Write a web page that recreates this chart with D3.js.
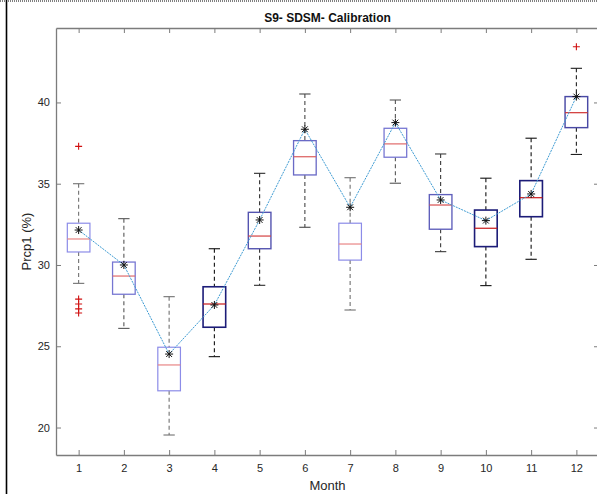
<!DOCTYPE html>
<html>
<head>
<meta charset="utf-8">
<script src="https://cdn.jsdelivr.net/npm/d3@7"></script>
<style>
  html, body { margin: 0; padding: 0; background: #fff; }
  svg { display: block; font-family: "Liberation Sans", Arial, sans-serif; }
</style>
</head>
<body>
<svg id="chart" width="597" height="496"></svg>
<script>
// Monthly box-plot statistics of Prcp1 (%)
const months      = [1, 2, 3, 4, 5, 6, 7, 8, 9, 10, 11, 12];
const whiskerLow  = [28.87, 26.1, 19.54, 24.36, 28.75, 32.32, 27.23, 35.03, 30.82, 28.73, 30.35, 36.8];
const boxLow      = [30.8, 28.2, 22.26, 26.17, 31.0, 35.54, 30.3, 36.63, 32.2, 31.13, 32.97, 38.45];
const medians     = [31.6, 29.32, 23.85, 27.6, 31.78, 36.66, 31.29, 37.45, 33.69, 32.26, 34.14, 39.37];
const boxHigh     = [32.57, 30.18, 24.94, 28.66, 33.24, 37.65, 32.57, 38.41, 34.33, 33.38, 35.19, 40.36];
const whiskerHigh = [35.0, 32.85, 28.05, 31.0, 35.64, 40.52, 35.37, 40.15, 36.83, 35.34, 37.8, 42.1];
const means       = [32.15, 30.0, 24.52, 27.54, 32.77, 38.35, 33.55, 38.76, 34.0, 32.73, 34.37, 40.36];
// Outliers: [month, value]
const outliers    = [[1, 37.3], [1, 27.9], [1, 27.6], [1, 27.3], [1, 27.05], [12, 43.43]];
const yTicks      = [20, 25, 30, 35, 40];

// Line weight of each month's box (0 = light, 1 = dark)
const ink = [0, 0.2, 0, 1, 0.5, 0.3, 0, 0.2, 0.4, 1, 1, 0.6];

const svg = d3.select("#chart");
const plotLeft = 56, plotRight = 599, plotTop = 28, plotBottom = 455;

const x = d3.scaleLinear().domain([0.5, 12.5]).range([plotLeft, plotRight]);
const y = d3.scaleLinear().domain([18.31, 44.58]).range([plotBottom, plotTop]);

// Figure border
svg.append("line").attr("x1", 6.5).attr("x2", 6.5).attr("y1", 0).attr("y2", 494)
  .attr("stroke", "#000").attr("stroke-width", 1.6);
svg.append("line").attr("x1", 0).attr("x2", 597).attr("y1", 1).attr("y2", 1)
  .attr("stroke", "#000").attr("stroke-width", 1).attr("stroke-dasharray", "1,1");

// Axes (ticks pointing inward)
const axisColor = "#7c7c7c";
function styleAxis(g) {
  g.selectAll("path.domain").attr("stroke", axisColor).attr("stroke-width", 1.3);
  g.selectAll(".tick line").attr("stroke", axisColor).attr("stroke-width", 1);
  g.selectAll(".tick text").attr("fill", "#262626").style("font-size", "11px")
    .style("font-family", "Liberation Sans, Arial, sans-serif");
}
svg.append("g").attr("transform", `translate(0,${plotBottom})`)
  .call(d3.axisBottom(x).tickValues(months).tickFormat(d3.format("d"))
    .tickSizeInner(-5).tickSizeOuter(0).tickPadding(9))
  .call(styleAxis);
svg.append("g").attr("transform", `translate(0,${plotTop})`)
  .call(d3.axisTop(x).tickValues(months).tickFormat("")
    .tickSizeInner(-5).tickSizeOuter(0))
  .call(styleAxis);
svg.append("g").attr("transform", `translate(${plotLeft},0)`)
  .call(d3.axisLeft(y).tickValues(yTicks).tickFormat(d3.format("d"))
    .tickSizeInner(-5).tickSizeOuter(0).tickPadding(6))
  .call(styleAxis);
svg.append("g").attr("transform", `translate(${plotRight},0)`)
  .call(d3.axisRight(y).tickValues(yTicks).tickFormat("")
    .tickSizeInner(-5).tickSizeOuter(0))
  .call(styleAxis);

// Box plots
const boxW = x(1.25) - x(1);   // half-width of box in px (box spans 0.5 month)
const capW = boxW / 2;
const lightBox = d3.rgb("#8c8ce8"), darkBox = d3.rgb("#1c1c78");
const lightWh = d3.rgb("#9a9a9a"), darkWh = d3.rgb("#111111");
const lightMed = d3.rgb("#f0a0a0"), darkMed = d3.rgb("#c81818");

const boxes = svg.append("g");
months.forEach((m, i) => {
  const cx = x(m);
  const t = ink[i];
  const bc = d3.interpolateRgb(lightBox, darkBox)(t);
  const wc = d3.interpolateRgb(lightWh, darkWh)(Math.min(1, t + 0.3));
  const mc = d3.interpolateRgb(lightMed, darkMed)(Math.min(1, t + 0.2));
  const g = boxes.append("g");
  // whiskers
  g.append("line").attr("x1", cx).attr("x2", cx)
    .attr("y1", y(whiskerHigh[i])).attr("y2", y(boxHigh[i]))
    .attr("stroke", wc).attr("stroke-width", 1.1).attr("stroke-dasharray", "4,3");
  g.append("line").attr("x1", cx).attr("x2", cx)
    .attr("y1", y(boxLow[i])).attr("y2", y(whiskerLow[i]))
    .attr("stroke", wc).attr("stroke-width", 1.1).attr("stroke-dasharray", "4,3");
  // caps
  [whiskerHigh[i], whiskerLow[i]].forEach(v => {
    g.append("line").attr("x1", cx - capW).attr("x2", cx + capW)
      .attr("y1", y(v)).attr("y2", y(v))
      .attr("stroke", wc).attr("stroke-width", 1.1);
  });
  // box
  g.append("rect").attr("x", cx - boxW).attr("width", 2 * boxW)
    .attr("y", y(boxHigh[i])).attr("height", y(boxLow[i]) - y(boxHigh[i]))
    .attr("fill", "none").attr("stroke", bc).attr("stroke-width", 1.2 + 0.4 * t);
  // median
  g.append("line").attr("x1", cx - boxW).attr("x2", cx + boxW)
    .attr("y1", y(medians[i])).attr("y2", y(medians[i]))
    .attr("stroke", mc).attr("stroke-width", 1.2);
});

// Outliers
svg.append("g").selectAll("path").data(outliers).join("path")
  .attr("transform", d => `translate(${x(d[0])},${y(d[1])})`)
  .attr("d", "M-3.5,0H3.5M0,-3.5V3.5")
  .attr("stroke", "#d01010").attr("stroke-width", 1.1).attr("fill", "none");

// Line through the monthly means
const line = d3.line().x((d, i) => x(months[i])).y(d => y(d));
svg.append("path").datum(means).attr("d", line)
  .attr("fill", "none").attr("stroke", "#3d9bd3").attr("stroke-width", 1)
  .attr("stroke-dasharray", "2,1");

// Mean markers (asterisks)
svg.append("g").selectAll("path").data(means).join("path")
  .attr("transform", (d, i) => `translate(${x(months[i])},${y(d)})`)
  .attr("d", "M-4,0H4M0,-4V4M-2.9,-2.9L2.9,2.9M-2.9,2.9L2.9,-2.9")
  .attr("stroke", "#111").attr("stroke-width", 1).attr("fill", "none");

// Title and axis labels
svg.append("text").attr("x", (plotLeft + plotRight) / 2).attr("y", 22)
  .attr("text-anchor", "middle").style("font-size", "12px").style("font-weight", "bold")
  .attr("fill", "#111").text("S9- SDSM- Calibration");
svg.append("text").attr("x", (plotLeft + plotRight) / 2).attr("y", 490)
  .attr("text-anchor", "middle").style("font-size", "13px")
  .attr("fill", "#262626").text("Month");
svg.append("text")
  .attr("transform", `translate(31,${(plotTop + plotBottom) / 2}) rotate(-90)`)
  .attr("text-anchor", "middle").style("font-size", "13px")
  .attr("fill", "#262626").text("Prcp1 (%)");
</script>
</body>
</html>
